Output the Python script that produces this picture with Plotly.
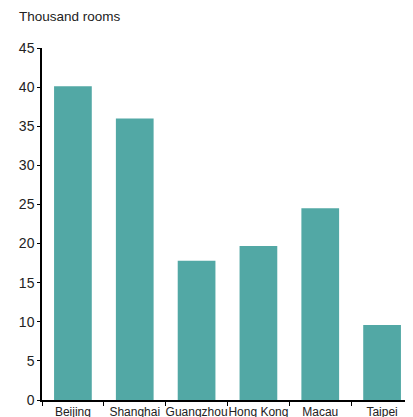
import plotly.graph_objects as go

cities = ["Beijing", "Shanghai", "Guangzhou", "Hong Kong", "Macau", "Taipei"]
rooms = [40.1, 36.0, 17.8, 19.7, 24.5, 9.6]
y_ticks = [0, 5, 10, 15, 20, 25, 30, 35, 40, 45]

fig = go.Figure(go.Bar(x=cities, y=rooms, marker_color="#52A8A5", marker_line_width=0))

# page body has an 8px margin, so the figure is sized to fill the rest of the window
fig.update_layout(
    width=405, height=409,
    margin=dict(l=34, r=0, t=40, b=17, autoexpand=False),
    paper_bgcolor="white", plot_bgcolor="white",
    bargap=0.39,
    showlegend=False,
    font=dict(family="Liberation Sans, Arial, sans-serif", size=13, color="#222"),
    annotations=[dict(text="Thousand rooms", xref="paper", yref="paper",
                      x=-25/371, y=1 + 31/352, xanchor="left", yanchor="middle",
                      showarrow=False, font=dict(size=13.5, color="#222"))],
)
fig.update_xaxes(showline=True, linecolor="black", linewidth=1.5, ticks="outside",
                 tickson="boundaries", ticklen=4, tickcolor="black", showgrid=False,
                 tickangle=0, automargin=False, tickfont=dict(size=12))
fig.update_yaxes(range=[0, 45], tickvals=y_ticks, showline=True, linecolor="black",
                 linewidth=1.5, ticks="outside", ticklen=3, tickcolor="black",
                 showgrid=False, zeroline=False, automargin=False, tickfont=dict(size=14))

fig.write_html("out.html")
